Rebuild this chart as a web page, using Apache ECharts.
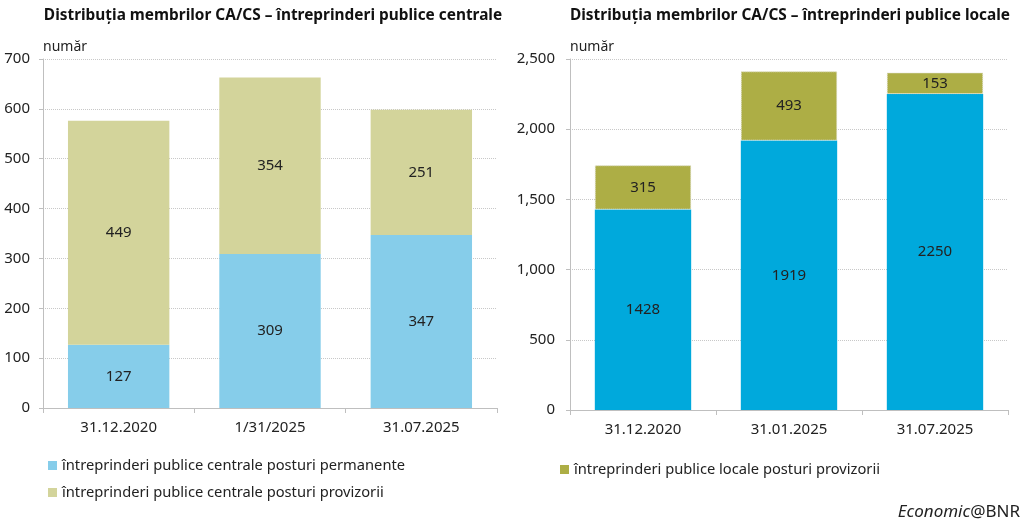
<!DOCTYPE html>
<html>
<head>
<meta charset="utf-8">
<script src="https://cdn.jsdelivr.net/npm/echarts@6/dist/echarts.min.js"></script>
<style>
  html, body { margin: 0; padding: 0; background: #fff; }
  #chart { width: 1024px; height: 532px; }
</style>
</head>
<body>
<div id="chart"></div>
<script>
// date categories for each panel
const centralDates = ['31.12.2020', '1/31/2025', '31.07.2025']
const localDates = ['31.12.2020', '31.01.2025', '31.07.2025']

// central public companies
const centralPermanent = [127, 309, 347]
const centralProvisional = [449, 354, 251]

// local public companies
const localPermanent = [1428, 1919, 2250]
const localProvisional = [315, 493, 153]

const FONT = "'Noto Sans', sans-serif"
const AXIS_GREY = '#bfbfbf'

const chart = echarts.init(document.getElementById('chart'))

// shared axis styles
const catAxis = {
  type: 'category',
  axisLine: { lineStyle: { color: AXIS_GREY } },
  axisTick: { show: true, alignWithLabel: false, length: 5, lineStyle: { color: AXIS_GREY } },
  axisLabel: { color: '#222', fontSize: 15, fontFamily: FONT, margin: 12 }
}
const valAxis = {
  type: 'value',
  nameLocation: 'end',
  nameGap: 5,
  axisLine: { show: true, lineStyle: { color: AXIS_GREY } },
  axisTick: { show: true, length: 4, lineStyle: { color: AXIS_GREY } },
  splitLine: { lineStyle: { color: '#c8c8c8', type: 'dotted' } },
  nameTextStyle: { color: '#222', fontSize: 14, fontFamily: FONT, align: 'left' },
  axisLabel: { color: '#222', fontSize: 15, fontFamily: FONT, margin: 13 }
}
const barLabel = { show: true, position: 'inside', color: '#222', fontSize: 15, fontFamily: FONT }
const legendText = { fontSize: 14.7, color: '#222', fontFamily: FONT }

chart.setOption({
  animation: false,
  textStyle: { fontFamily: FONT },
  title: [
    {
      text: 'Distribuția membrilor CA/CS – întreprinderi publice centrale',
      left: 268, top: 3, textAlign: 'center',
      textStyle: { fontSize: 15.4, fontWeight: 'bold', color: '#111', fontFamily: FONT }
    },
    {
      text: 'Distribuția membrilor CA/CS – întreprinderi publice locale',
      left: 785, top: 3, textAlign: 'center',
      textStyle: { fontSize: 15.4, fontWeight: 'bold', color: '#111', fontFamily: FONT }
    }
  ],
  legend: [
    {
      data: ['întreprinderi publice centrale posturi permanente', 'întreprinderi publice centrale posturi provizorii'],
      orient: 'vertical', left: 43, top: 453, itemGap: 12,
      itemWidth: 9, itemHeight: 9, icon: 'rect',
      itemStyle: { borderWidth: 0 },
      textStyle: legendText
    },
    {
      data: ['întreprinderi publice locale posturi provizorii'],
      left: 555, top: 457,
      itemWidth: 9, itemHeight: 9, icon: 'rect',
      itemStyle: { borderWidth: 0 },
      textStyle: legendText
    }
  ],
  grid: [
    { left: 43, right: 527, top: 59, bottom: 124 },
    { left: 570, right: 16, top: 59, bottom: 122 }
  ],
  xAxis: [
    { ...catAxis, gridIndex: 0, data: centralDates },
    { ...catAxis, gridIndex: 1, data: localDates }
  ],
  yAxis: [
    { ...valAxis, gridIndex: 0, min: 0, max: 700, interval: 100, name: 'număr' },
    {
      ...valAxis, gridIndex: 1, min: 0, max: 2500, interval: 500, name: 'număr',
      axisLabel: { ...valAxis.axisLabel, margin: 15, formatter: v => v.toLocaleString('en-US') }
    }
  ],
  series: [
    {
      name: 'întreprinderi publice centrale posturi permanente',
      type: 'bar', stack: 'c', xAxisIndex: 0, yAxisIndex: 0,
      barWidth: '67%', itemStyle: { color: '#86cdea' },
      label: barLabel, data: centralPermanent
    },
    {
      name: 'întreprinderi publice centrale posturi provizorii',
      type: 'bar', stack: 'c', xAxisIndex: 0, yAxisIndex: 0,
      barWidth: '67%', itemStyle: { color: '#d3d49b' },
      label: barLabel, data: centralProvisional
    },
    {
      name: 'întreprinderi publice locale posturi permanente',
      type: 'bar', stack: 'l', xAxisIndex: 1, yAxisIndex: 1,
      barWidth: '66%', itemStyle: { color: '#00a9dc' },
      label: barLabel, data: localPermanent
    },
    {
      name: 'întreprinderi publice locale posturi provizorii',
      type: 'bar', stack: 'l', xAxisIndex: 1, yAxisIndex: 1,
      barWidth: '66%', itemStyle: { color: '#adae45', borderColor: '#d8d8c0', borderWidth: 1, borderType: 'dotted' },
      label: barLabel, data: localProvisional
    }
  ],
  graphic: [
    {
      type: 'text', right: 4, top: 504,
      style: {
        rich: {
          i: { fontStyle: 'italic', fontSize: 17, fontFamily: FONT, fill: '#222' },
          n: { fontSize: 17, fontFamily: FONT, fill: '#222' }
        },
        text: '{i|Economic}{n|@BNR}'
      }
    }
  ]
})
</script>
</body>
</html>
